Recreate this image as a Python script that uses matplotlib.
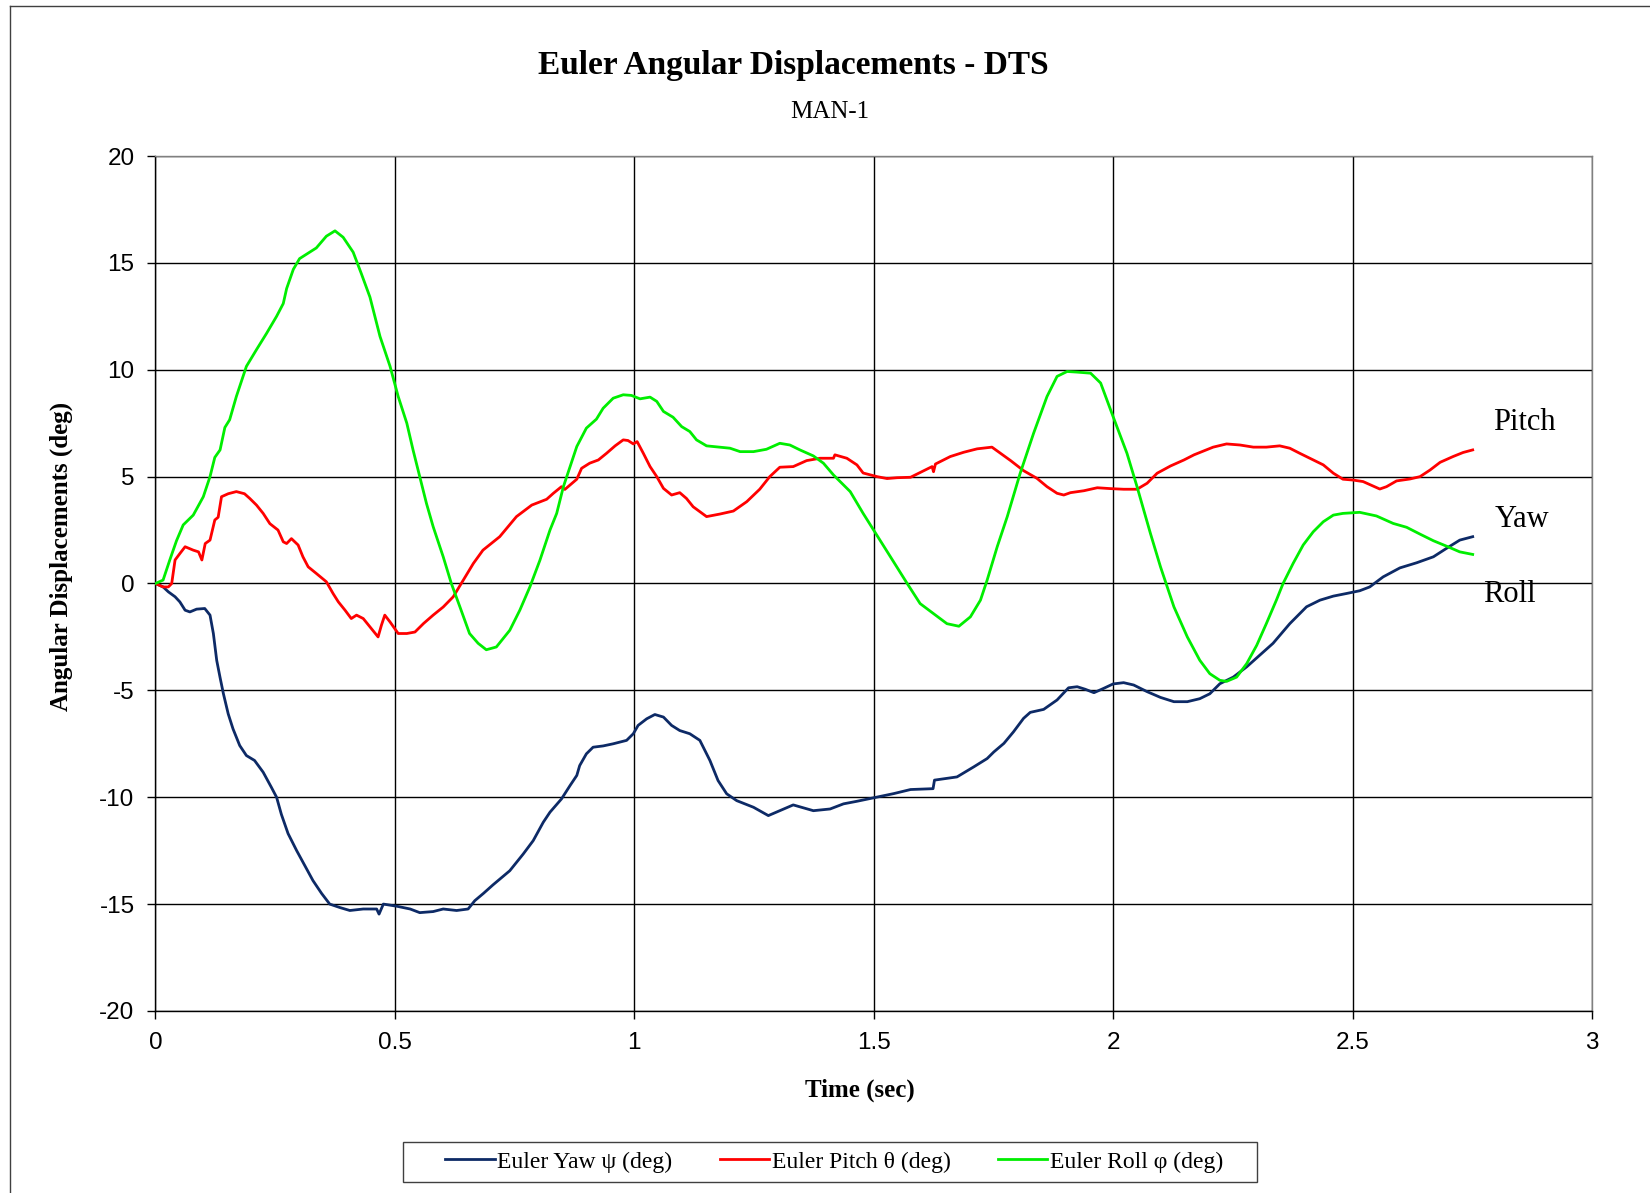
import numpy as np
import matplotlib
matplotlib.use("Agg")
import matplotlib.pyplot as plt
from matplotlib.lines import Line2D
from matplotlib.patches import Rectangle

plt.rcParams['axes.unicode_minus'] = False

SERIF = ['Liberation Serif', 'DejaVu Serif']
SANS = ['Liberation Sans', 'DejaVu Sans']

# (time s, angle deg)
yaw_pts = [
    (0, 0), (0.016, -0.16), (0.027, -0.39), (0.041, -0.62), (0.051, -0.86), (0.062, -1.25),
    (0.072, -1.33), (0.086, -1.2), (0.103, -1.17), (0.114, -1.48), (0.121, -2.34), (0.128, -3.6),
    (0.135, -4.4), (0.142, -5.16), (0.152, -6.1), (0.162, -6.8), (0.176, -7.58), (0.190, -8.05),
    (0.207, -8.28), (0.225, -8.83), (0.242, -9.53), (0.253, -10.0), (0.263, -10.8), (0.277, -11.7),
    (0.295, -12.5), (0.312, -13.2), (0.329, -13.9), (0.347, -14.5), (0.364, -15.0), (0.385, -15.16),
    (0.406, -15.3), (0.434, -15.23), (0.462, -15.23), (0.467, -15.47), (0.476, -15.0), (0.504, -15.1),
    (0.532, -15.23), (0.552, -15.4), (0.580, -15.35), (0.601, -15.23), (0.629, -15.3), (0.653, -15.23),
    (0.667, -14.84), (0.685, -14.5), (0.705, -14.1), (0.740, -13.44), (0.768, -12.66), (0.789, -12.03),
    (0.810, -11.17), (0.824, -10.7), (0.848, -10.08), (0.866, -9.45), (0.880, -8.98), (0.886, -8.52),
    (0.900, -7.97), (0.914, -7.66), (0.935, -7.6), (0.956, -7.5), (0.984, -7.34), (0.998, -7.03),
    (1.008, -6.64), (1.026, -6.33), (1.043, -6.13), (1.061, -6.25), (1.078, -6.64), (1.095, -6.88),
    (1.116, -7.03), (1.137, -7.34), (1.158, -8.28), (1.175, -9.22), (1.193, -9.84), (1.214, -10.16),
    (1.249, -10.47), (1.280, -10.86), (1.304, -10.63), (1.332, -10.36), (1.374, -10.63), (1.409, -10.55),
    (1.437, -10.31), (1.465, -10.19), (1.499, -10.03), (1.542, -9.83), (1.577, -9.64), (1.624, -9.6),
    (1.627, -9.2), (1.674, -9.05), (1.709, -8.58), (1.737, -8.19), (1.751, -7.88), (1.772, -7.48),
    (1.792, -6.94), (1.813, -6.31), (1.827, -6.03), (1.855, -5.89), (1.883, -5.45), (1.907, -4.88),
    (1.925, -4.83), (1.942, -4.95), (1.960, -5.11), (1.980, -4.91), (2.0, -4.7), (2.022, -4.64),
    (2.043, -4.75), (2.071, -5.06), (2.099, -5.33), (2.127, -5.53), (2.155, -5.53), (2.181, -5.39),
    (2.202, -5.16), (2.223, -4.69), (2.251, -4.38), (2.279, -3.9), (2.306, -3.36), (2.334, -2.8),
    (2.369, -1.88), (2.404, -1.09), (2.432, -0.78), (2.46, -0.59), (2.487, -0.47), (2.515, -0.34),
    (2.536, -0.16), (2.564, 0.31), (2.599, 0.73), (2.634, 0.97), (2.669, 1.25), (2.696, 1.64),
    (2.724, 2.03), (2.751, 2.19),
]

pitch_pts = [
    (0, 0), (0.016, -0.16), (0.027, -0.16), (0.034, 0), (0.041, 1.1), (0.051, 1.4), (0.062, 1.72),
    (0.079, 1.56), (0.090, 1.48), (0.097, 1.1), (0.104, 1.87), (0.114, 2.03), (0.124, 2.97),
    (0.131, 3.1), (0.138, 4.06), (0.152, 4.2), (0.169, 4.3), (0.186, 4.2), (0.197, 3.98),
    (0.211, 3.67), (0.225, 3.28), (0.239, 2.8), (0.256, 2.5), (0.267, 1.95), (0.274, 1.87),
    (0.284, 2.1), (0.298, 1.8), (0.308, 1.25), (0.319, 0.78), (0.336, 0.47), (0.357, 0.08),
    (0.371, -0.47), (0.382, -0.86), (0.396, -1.25), (0.409, -1.64), (0.420, -1.48), (0.434, -1.64),
    (0.448, -2.03), (0.465, -2.5), (0.472, -1.95), (0.479, -1.48), (0.490, -1.8), (0.507, -2.34),
    (0.525, -2.34), (0.542, -2.27), (0.560, -1.87), (0.580, -1.48), (0.601, -1.1), (0.622, -0.62),
    (0.643, 0.16), (0.664, 0.94), (0.684, 1.56), (0.719, 2.19), (0.754, 3.13), (0.786, 3.67),
    (0.817, 3.94), (0.831, 4.22), (0.848, 4.53), (0.855, 4.4), (0.880, 4.88), (0.890, 5.39),
    (0.907, 5.63), (0.925, 5.78), (0.942, 6.09), (0.960, 6.44), (0.977, 6.72), (0.987, 6.69),
    (0.998, 6.53), (1.006, 6.64), (1.019, 6.09), (1.033, 5.47), (1.047, 5.0), (1.061, 4.45),
    (1.078, 4.14), (1.095, 4.25), (1.109, 3.98), (1.123, 3.59), (1.151, 3.13), (1.179, 3.25),
    (1.207, 3.39), (1.235, 3.83), (1.262, 4.41), (1.283, 5.0), (1.304, 5.44), (1.332, 5.47),
    (1.360, 5.75), (1.388, 5.86), (1.416, 5.86), (1.419, 6.02), (1.444, 5.86), (1.465, 5.55),
    (1.478, 5.17), (1.507, 5.0), (1.528, 4.91), (1.549, 4.95), (1.577, 4.97), (1.597, 5.19),
    (1.622, 5.47), (1.625, 5.23), (1.629, 5.59), (1.660, 5.94), (1.688, 6.14), (1.716, 6.3),
    (1.747, 6.38), (1.765, 6.09), (1.786, 5.75), (1.813, 5.28), (1.841, 4.92), (1.862, 4.53),
    (1.883, 4.22), (1.897, 4.14), (1.911, 4.25), (1.939, 4.34), (1.967, 4.48), (1.994, 4.44),
    (2.022, 4.41), (2.050, 4.41), (2.071, 4.69), (2.092, 5.16), (2.120, 5.5), (2.148, 5.78),
    (2.169, 6.02), (2.209, 6.38), (2.237, 6.53), (2.265, 6.48), (2.293, 6.38), (2.320, 6.38),
    (2.348, 6.44), (2.369, 6.33), (2.39, 6.09), (2.418, 5.78), (2.439, 5.55), (2.460, 5.16),
    (2.480, 4.88), (2.501, 4.84), (2.522, 4.77), (2.543, 4.56), (2.557, 4.42), (2.571, 4.53),
    (2.592, 4.8), (2.62, 4.89), (2.641, 5.0), (2.662, 5.31), (2.683, 5.67), (2.710, 5.94),
    (2.731, 6.13), (2.751, 6.25),
]

roll_pts = [
    (0, 0), (0.016, 0.16), (0.030, 1.1), (0.044, 2.0), (0.058, 2.74), (0.079, 3.2), (0.10, 4.06),
    (0.114, 5.0), (0.124, 5.9), (0.135, 6.25), (0.145, 7.3), (0.155, 7.66), (0.169, 8.75),
    (0.190, 10.16), (0.211, 10.94), (0.232, 11.7), (0.253, 12.5), (0.267, 13.1), (0.274, 13.8),
    (0.288, 14.7), (0.301, 15.2), (0.315, 15.4), (0.336, 15.7), (0.357, 16.25), (0.375, 16.5),
    (0.392, 16.2), (0.413, 15.5), (0.430, 14.5), (0.448, 13.4), (0.469, 11.56), (0.490, 10.16),
    (0.507, 8.75), (0.525, 7.5), (0.538, 6.25), (0.552, 5.0), (0.566, 3.75), (0.580, 2.66),
    (0.601, 1.25), (0.618, 0), (0.636, -1.1), (0.656, -2.34), (0.674, -2.8), (0.691, -3.1),
    (0.712, -2.97), (0.740, -2.19), (0.761, -1.25), (0.782, -0.16), (0.803, 1.09), (0.824, 2.5),
    (0.838, 3.28), (0.852, 4.53), (0.866, 5.47), (0.880, 6.41), (0.900, 7.27), (0.921, 7.69),
    (0.935, 8.2), (0.956, 8.67), (0.977, 8.83), (0.994, 8.8), (1.012, 8.64), (1.033, 8.72),
    (1.047, 8.52), (1.061, 8.05), (1.081, 7.78), (1.099, 7.34), (1.116, 7.11), (1.130, 6.72),
    (1.151, 6.44), (1.179, 6.38), (1.200, 6.33), (1.221, 6.17), (1.249, 6.17), (1.276, 6.28),
    (1.304, 6.56), (1.325, 6.48), (1.346, 6.25), (1.374, 5.97), (1.395, 5.63), (1.416, 5.08),
    (1.451, 4.3), (1.478, 3.28), (1.5, 2.5), (1.535, 1.25), (1.570, 0), (1.597, -0.94),
    (1.625, -1.41), (1.653, -1.88), (1.678, -2.0), (1.702, -1.56), (1.723, -0.78), (1.737, 0.16),
    (1.758, 1.72), (1.779, 3.13), (1.806, 5.16), (1.834, 7.03), (1.862, 8.75), (1.883, 9.69),
    (1.904, 9.92), (1.925, 9.89), (1.953, 9.84), (1.974, 9.38), (2.0, 7.81), (2.029, 6.09),
    (2.050, 4.53), (2.078, 2.34), (2.099, 0.78), (2.127, -1.09), (2.155, -2.5), (2.181, -3.59),
    (2.202, -4.22), (2.223, -4.53), (2.237, -4.58), (2.258, -4.38), (2.279, -3.75), (2.300, -2.89),
    (2.320, -1.88), (2.341, -0.78), (2.355, 0), (2.376, 0.94), (2.397, 1.8), (2.418, 2.42),
    (2.439, 2.89), (2.460, 3.2), (2.480, 3.28), (2.515, 3.33), (2.550, 3.16), (2.585, 2.81),
    (2.613, 2.63), (2.641, 2.31), (2.669, 2.0), (2.696, 1.75), (2.724, 1.48), (2.751, 1.36),
]

series_labels = ['Euler Yaw \u03c8 (deg)', 'Euler Pitch \u03b8 (deg)', 'Euler Roll \u03c6 (deg)']
series_colors = ['#0d2a66', '#ff0000', '#00ee00']

end_labels = ['Pitch', 'Yaw', 'Roll']
end_label_pos = [(2.794, 7.2), (2.796, 2.65), (2.772, -0.87)]

x_ticks = [0, 0.5, 1, 1.5, 2, 2.5, 3]
x_ticklabels = ['0', '0.5', '1', '1.5', '2', '2.5', '3']
y_ticks = [-20, -15, -10, -5, 0, 5, 10, 15, 20]

fig = plt.figure(figsize=(16.5, 11.93), dpi=100)
ax = fig.add_axes([0.0942, 0.1526, 0.8706, 0.7166])

for pts, lab, col in zip([yaw_pts, pitch_pts, roll_pts], series_labels, series_colors):
    arr = np.array(pts)
    ax.plot(arr[:, 0], arr[:, 1], color=col, lw=2.0, label=lab, zorder=3)

ax.set_xlim(0, 3)
ax.set_ylim(-20, 20)
ax.set_xticks(x_ticks)
ax.set_xticklabels(x_ticklabels)
ax.set_yticks(y_ticks)
ax.grid(True, color='black', lw=1.0)
ax.set_axisbelow(True)
ax.tick_params(direction='out', length=6, width=1.0, labelsize=17.5, pad=9)
for lbl in ax.get_xticklabels() + ax.get_yticklabels():
    lbl.set_family(SANS)

for side in ['left', 'bottom']:
    ax.spines[side].set_color('black')
    ax.spines[side].set_linewidth(1.0)
for side in ['top', 'right']:
    ax.spines[side].set_color('#808080')
    ax.spines[side].set_linewidth(1.0)

for txt, (tx, ty) in zip(end_labels, end_label_pos):
    ax.text(tx, ty, txt, fontsize=22, family=SERIF, ha='left', va='baseline')

fig.text(0.481, 0.945, 'Euler Angular Displacements - DTS', fontsize=24, fontweight='bold',
         family=SERIF, ha='center', va='center')
fig.text(0.503, 0.9065, 'MAN-1', fontsize=18, family=SERIF, ha='center', va='center')
fig.text(0.037, 0.534, 'Angular Displacements (deg)', fontsize=18, fontweight='bold',
         family=SERIF, rotation=90, ha='center', va='center')
fig.text(0.521, 0.0863, 'Time (sec)', fontsize=18, fontweight='bold', family=SERIF,
         ha='center', va='center')

# legend entries without frame; the box is drawn separately to match its wider padding
fig.legend(loc='center', bbox_to_anchor=(0.5055, 0.026), ncol=3, frameon=False,
           prop={'family': SERIF, 'size': 17}, handlelength=2.1,
           handletextpad=0.1, columnspacing=2.0)
fig.add_artist(Rectangle((403 / 1650, 1 - 1182 / 1193), 854 / 1650, 40 / 1193,
                         transform=fig.transFigure, fill=False, edgecolor='#404040', lw=1.0))

# outer chart-area border (only left and top edges are visible)
fig.add_artist(Line2D([0.006, 0.006], [0.0, 0.995], transform=fig.transFigure, color='#404040', lw=1.0))
fig.add_artist(Line2D([0.006, 1.0], [0.995, 0.995], transform=fig.transFigure, color='#404040', lw=1.0))

fig.savefig('out.png', dpi=100)
